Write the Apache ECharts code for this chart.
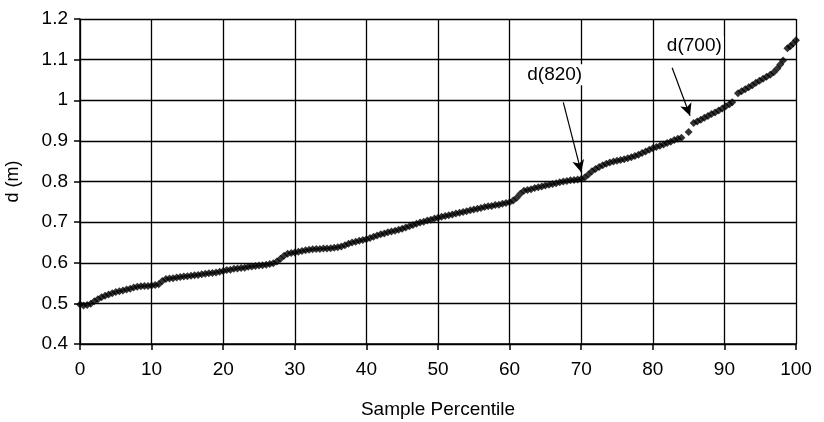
<!DOCTYPE html>
<html>
<head>
<meta charset="utf-8">
<script src="https://cdn.jsdelivr.net/npm/echarts@6/dist/echarts.min.js"></script>
<style>html,body{margin:0;padding:0;background:#fff}#c{width:824px;height:422px}</style>
</head>
<body>
<div id="c"></div>
<script>
// Sample percentile positions and measured depth d (m)
const percentiles = [
 0,0.5,1,1.5,2,2.5,3,3.5,4,4.5,5,5.5,6,6.5,7,7.5,8,8.5,9,9.5,
 10,10.5,11,11.5,12,12.5,13,13.5,14,14.5,15,15.5,16,16.5,17,17.5,18,18.5,19,19.5,
 20,20.5,21,21.5,22,22.5,23,23.5,24,24.5,25,25.5,26,26.5,27,27.5,28,28.5,29,29.5,
 30,30.5,31,31.5,32,32.5,33,33.5,34,34.5,35,35.5,36,36.5,37,37.5,38,38.5,39,39.5,
 40,40.5,41,41.5,42,42.5,43,43.5,44,44.5,45,45.5,46,46.5,47,47.5,48,48.5,49,49.5,
 50,50.5,51,51.5,52,52.5,53,53.5,54,54.5,55,55.5,56,56.5,57,57.5,58,58.5,59,59.5,
 60,60.5,61,61.5,62,62.5,63,63.5,64,64.5,65,65.5,66,66.5,67,67.5,68,68.5,69,69.5,
 70,70.5,71,71.5,72,72.5,73,73.5,74,74.5,75,75.5,76,76.5,77,77.5,78,78.5,79,79.5,
 80,80.5,81,81.5,82,82.5,83,83.5,84,
 85,
 85.7,86.2,86.7,87.2,87.7,88.2,88.7,89.2,89.7,90.2,90.7,91.1,
 91.9,92.4,92.9,93.4,93.9,94.4,94.9,95.4,95.9,96.4,96.9,97.4,97.8,98.2,
 98.8,99.2,99.6,100
];
const depths = [
 0.497,0.495,0.496,0.499,0.505,0.510,0.515,0.519,0.522,0.525,0.528,0.530,0.532,0.534,0.536,0.539,0.541,0.542,0.543,0.543,
 0.544,0.545,0.547,0.555,0.560,0.561,0.562,0.564,0.565,0.566,0.567,0.568,0.569,0.570,0.572,0.573,0.574,0.575,0.576,0.578,
 0.580,0.582,0.583,0.585,0.586,0.587,0.588,0.590,0.591,0.592,0.593,0.594,0.595,0.597,0.599,0.603,0.610,0.617,0.622,0.624,
 0.625,0.627,0.629,0.631,0.632,0.633,0.634,0.634,0.635,0.635,0.636,0.637,0.638,0.640,0.643,0.647,0.650,0.652,0.654,0.656,
 0.658,0.661,0.664,0.667,0.670,0.672,0.675,0.677,0.679,0.681,0.684,0.687,0.690,0.693,0.696,0.699,0.701,0.704,0.706,0.709,
 0.711,0.713,0.715,0.717,0.719,0.721,0.723,0.725,0.727,0.729,0.731,0.733,0.735,0.737,0.739,0.740,0.742,0.743,0.745,0.747,
 0.749,0.753,0.760,0.770,0.777,0.779,0.781,0.784,0.786,0.788,0.790,0.792,0.794,0.796,0.798,0.800,0.801,0.803,0.804,0.805,
 0.806,0.810,0.817,0.825,0.831,0.836,0.840,0.844,0.847,0.849,0.851,0.853,0.855,0.857,0.860,0.863,0.866,0.870,0.874,0.878,
 0.882,0.885,0.888,0.891,0.895,0.898,0.902,0.905,0.908,
 0.922,
 0.944,0.948,0.952,0.957,0.961,0.966,0.970,0.975,0.980,0.985,0.990,0.995,
 1.017,1.022,1.027,1.032,1.037,1.043,1.048,1.053,1.058,1.063,1.069,1.078,1.088,1.098,
 1.128,1.133,1.140,1.148
];
const xTicks = [0,10,20,30,40,50,60,70,80,90,100];
const yTicks = [0.4,0.5,0.6,0.7,0.8,0.9,1,1.1,1.2];
// Annotations: label, label position, arrow start, arrow end (data units)
const annLabels = ['d(820)', 'd(700)'];
const annText = [[66.3, 1.063], [85.8, 1.133]];
const annFrom = [[67.5, 0.995], [82.7, 1.08]];
const annTo = [[70.0, 0.823], [85.2, 0.962]];

const points = percentiles.map((p, i) => [p, depths[i]]);
const font = 'Liberation Sans, Arial, sans-serif';
const chart = echarts.init(document.getElementById('c'), null, {renderer: 'canvas'});
chart.setOption({
  animation: false,
  backgroundColor: '#fff',
  grid: {left: 80, right: 28, top: 19, bottom: 78, containLabel: false, outerBoundsMode: 'none'},
  xAxis: {
    type: 'value', min: xTicks[0], max: xTicks[xTicks.length-1], interval: 10,
    name: 'Sample Percentile', nameLocation: 'middle', nameGap: 56,
    nameTextStyle: {fontFamily: font, fontSize: 19, color: '#000'},
    axisLine: {show: true, lineStyle: {color: '#000', width: 1.5}},
    axisTick: {show: true, length: 6, lineStyle: {color: '#000', width: 1.5}},
    axisLabel: {fontFamily: font, fontSize: 19, color: '#000', margin: 16},
    splitLine: {show: true, lineStyle: {color: '#000', width: 1.3}}
  },
  yAxis: {
    type: 'value', min: yTicks[0], max: yTicks[yTicks.length-1], interval: 0.1,
    name: 'd (m)', nameLocation: 'middle', nameGap: 58, nameRotate: 90,
    nameTextStyle: {fontFamily: font, fontSize: 18, color: '#000'},
    axisLine: {show: true, lineStyle: {color: '#000', width: 1.5}},
    axisTick: {show: true, length: 6, lineStyle: {color: '#000', width: 1.5}},
    axisLabel: {fontFamily: font, fontSize: 19, color: '#000', margin: 12,
      formatter: v => String(Math.round(v * 10) / 10)},
    splitLine: {show: true, lineStyle: {color: '#000', width: 1.3}}
  },
  series: [{
    type: 'scatter',
    data: points,
    symbol: 'diamond',
    symbolSize: 8,
    itemStyle: {color: '#000'},
    z: 5,
    markLine: {
      silent: true,
      symbol: ['none', 'arrow'],
      symbolSize: [9, 12],
      lineStyle: {color: '#000', width: 1.2, type: 'solid'},
      label: {show: false},
      data: annFrom.map((f, i) => [{coord: f}, {coord: annTo[i]}])
    },
    markPoint: {
      silent: true,
      symbol: 'circle',
      symbolSize: 1,
      itemStyle: {color: 'rgba(0,0,0,0)'},
      label: {show: true, position: 'inside', fontFamily: font, fontSize: 19, color: '#000',
        backgroundColor: '#fff', padding: [1, 2], formatter: p => p.name},
      data: annText.map((t, i) => ({name: annLabels[i], coord: t}))
    }
  }]
});
</script>
</body>
</html>
